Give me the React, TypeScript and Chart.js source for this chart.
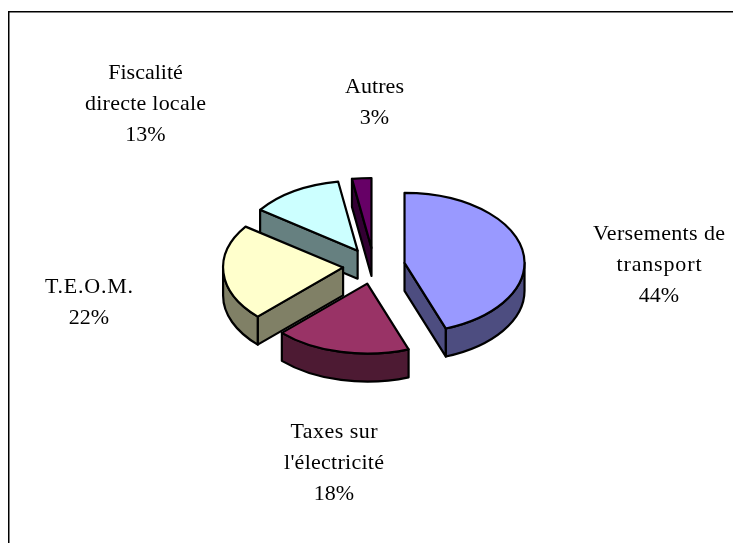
import React, { useEffect, useRef } from "react";
import { Chart, registerables } from "chart.js";

Chart.register(...registerables);

const categories = ["Versements de transport", "Taxes sur l'électricité", "T.E.O.M.", "Fiscalité directe locale", "Autres"];
const shares = [44.4, 18.2, 22.3, 12.5, 2.6];
const topColors = ["#9999FF", "#993366", "#FFFFCC", "#CCFFFF", "#660066"];
const sideColors = ["#4D4D80", "#4D1A33", "#808066", "#668080", "#330033"];

const labelLines = [
  ["Versements de", "transport", "44%"],
  ["Taxes sur", "l'électricité", "18%"],
  ["T.E.O.M.", "22%"],
  ["Fiscalité", "directe locale", "13%"],
  ["Autres", "3%"],
];
const lineWidths = [
  [132, 85, 40],
  [87, 100, 38],
  [88, 40],
  [73, 121, 38],
  [59, 27],
];
const labelAnchors = [
  [659, 240],
  [334, 438],
  [89, 293],
  [145.5, 79],
  [374.5, 93],
];

const SQUASH = 70 / 120;
const DEPTH = 28;
const LINE_PITCH = 31;

const pie3d = {
  id: "pie3d",
  beforeDatasetsDraw(chart: any) {
    const { ctx } = chart;
    const arcs = chart.getDatasetMeta(0).data as any[];
    ctx.save();
    ctx.strokeStyle = "#000";
    ctx.lineWidth = 2.2;
    ctx.lineJoin = "round";
    const order = arcs
      .map((el, i) => ({ el, i, mid: (el.startAngle + el.endAngle) / 2 }))
      .sort((a, b) => Math.sin(a.mid) - Math.sin(b.mid));
    for (const { el, i, mid } of order) {
      const off = el.options.offset || 0;
      const r = el.outerRadius;
      const ry = r * SQUASH;
      const cx = el.x + Math.cos(mid) * off;
      const cy = el.y + Math.sin(mid) * off * SQUASH;
      const a0 = el.startAngle;
      const a1 = el.endAngle;
      const pt = (a: number) => [cx + Math.cos(a) * r, cy + Math.sin(a) * ry];
      const wall = (a: number) => {
        const [px, py] = pt(a);
        ctx.beginPath();
        ctx.moveTo(cx, cy);
        ctx.lineTo(px, py);
        ctx.lineTo(px, py + DEPTH);
        ctx.lineTo(cx, cy + DEPTH);
        ctx.closePath();
        ctx.fillStyle = sideColors[i];
        ctx.fill();
        ctx.stroke();
      };
      if (Math.sin(a0 - Math.PI / 2) > 1e-6) wall(a0);
      if (Math.sin(a1 + Math.PI / 2) > 1e-6) wall(a1);
      const TAU = 2 * Math.PI;
      const s = ((a0 % TAU) + TAU) % TAU;
      const e = s + (a1 - a0);
      for (const shift of [0, TAU]) {
        const from = Math.max(s, shift);
        const to = Math.min(e, shift + Math.PI);
        if (to > from) {
          ctx.beginPath();
          ctx.ellipse(cx, cy, r, ry, 0, from, to);
          ctx.ellipse(cx, cy + DEPTH, r, ry, 0, to, from, true);
          ctx.closePath();
          ctx.fillStyle = sideColors[i];
          ctx.fill();
          ctx.stroke();
        }
      }
      ctx.beginPath();
      ctx.moveTo(cx, cy);
      ctx.ellipse(cx, cy, r, ry, 0, a0, a1);
      ctx.closePath();
      ctx.fillStyle = topColors[i];
      ctx.fill();
      ctx.stroke();
    }
    ctx.restore();
    return false;
  },
  afterDraw(chart: any) {
    const { ctx } = chart;
    ctx.save();
    ctx.strokeStyle = "#000";
    ctx.lineWidth = 1.5;
    ctx.beginPath();
    ctx.moveTo(8.75, 543);
    ctx.lineTo(8.75, 11.75);
    ctx.lineTo(733, 11.75);
    ctx.stroke();
    ctx.fillStyle = "#000";
    ctx.font = '22px "Liberation Serif"';
    ctx.textAlign = "left";
    ctx.textBaseline = "alphabetic";
    labelLines.forEach((lines, i) => {
      lines.forEach((t, j) => {
        const w = lineWidths[i][j];
        ctx.letterSpacing = "0px";
        const natural = ctx.measureText(t).width;
        const gap = Math.max((w - natural) / Math.max(t.length - 1, 1), 0);
        ctx.letterSpacing = `${gap}px`;
        const total = natural + gap * (t.length - 1);
        ctx.fillText(t, labelAnchors[i][0] - total / 2, labelAnchors[i][1] + j * LINE_PITCH);
      });
    });
    ctx.restore();
  },
};

export default function App() {
  const ref = useRef<HTMLCanvasElement>(null);
  useEffect(() => {
    const chart = new Chart(ref.current!, {
      type: "pie",
      data: {
        labels: categories,
        datasets: [{ data: shares, backgroundColor: topColors, offset: 31, borderWidth: 0 }],
      },
      options: {
        animation: false,
        responsive: false,
        radius: 120,
        layout: { padding: { left: 15, right: 0, top: 0, bottom: 11 } },
        plugins: { legend: { display: false }, tooltip: { enabled: false } },
      } as any,
      plugins: [pie3d],
    });
    return () => chart.destroy();
  }, []);
  return (
    <div style={{ position: "absolute", left: 0, top: 0, width: 733, height: 543, background: "#fff" }}>
      <canvas ref={ref} width={733} height={543} style={{ display: "block" }} />
    </div>
  );
}
